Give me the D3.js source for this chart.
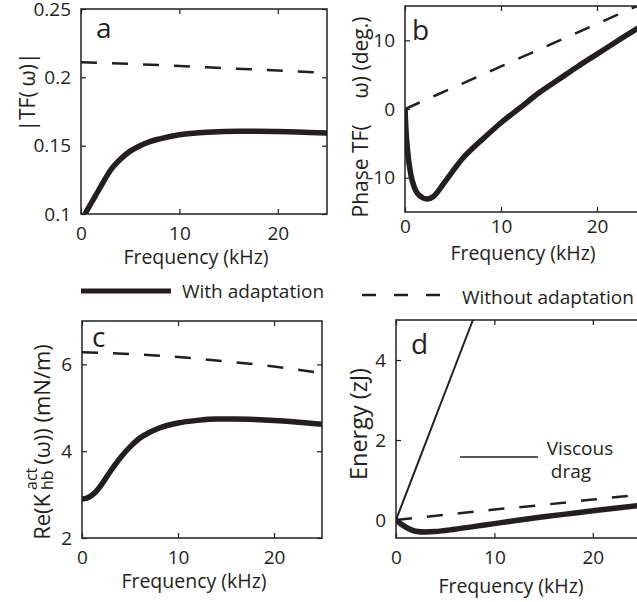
<!DOCTYPE html>
<html>
<head>
<meta charset="utf-8">
<script src="https://cdn.jsdelivr.net/npm/d3@7"></script>
<style>
  body { margin: 0; background: #fff; }
  text { font-family: "Open Sans", sans-serif; fill: #231f20; }
</style>
</head>
<body>
<script>
// ---- data ----
const freqTicks = [0, 10, 20]

// a: |TF(w)|
const tfWithFreq = [0.4, 1, 1.6, 2, 3, 4, 5, 6, 7, 8, 10, 12, 14, 16, 18, 20, 22, 25]
const tfWith = [0.1, 0.1075, 0.115, 0.12, 0.132, 0.14, 0.146, 0.15, 0.153, 0.155, 0.158, 0.1595, 0.1602, 0.1605, 0.1605, 0.1603, 0.16, 0.1592]
const tfWithoutFreq = [0, 5, 10, 15, 20, 25]
const tfWithout = [0.211, 0.2098, 0.2083, 0.2066, 0.205, 0.2032]
const tfTicks = [0.1, 0.15, 0.2, 0.25]

// b: phase TF(w)
const phaseWithFreq = [0, 0.1, 0.3, 0.6, 1, 1.5, 2.3, 3, 4, 5, 6, 7, 8, 10, 12, 14, 16, 18, 20, 22, 25]
const phaseWith = [0, -3, -6.5, -9.5, -11.5, -12.6, -13.1, -12.7, -10.9, -9, -7.2, -5.8, -4.5, -2, 0.2, 2.4, 4.3, 6.2, 8, 9.8, 12.4]
const phaseWithoutFreq = [0, 5, 10, 15, 20, 25]
const phaseWithout = [0, 3.1, 6.2, 9.3, 12.4, 15.5]
const phaseTicks = [-10, 0, 10]

// c: Re(K_hb^act(w))
const kWithFreq = [0, 0.5, 1, 1.5, 2, 3, 4, 5, 6, 7, 8, 10, 12, 14, 16, 18, 20, 22, 25]
const kWith = [2.9, 2.92, 2.98, 3.08, 3.22, 3.55, 3.85, 4.1, 4.3, 4.43, 4.53, 4.65, 4.71, 4.74, 4.74, 4.73, 4.71, 4.68, 4.62]
const kWithoutFreq = [0, 5, 10, 15, 20, 25]
const kWithout = [6.28, 6.24, 6.17, 6.07, 5.95, 5.8]
const kTicks = [2, 4, 6]

// d: energy
const eWithFreq = [0, 0.5, 1, 1.5, 2, 3, 4, 6, 8, 10, 12, 15, 18, 20, 22, 25]
const eWith = [0, -0.1, -0.18, -0.24, -0.28, -0.3, -0.29, -0.23, -0.16, -0.09, -0.02, 0.08, 0.17, 0.23, 0.29, 0.37]
const eWithoutFreq = [0, 5, 10, 15, 20, 25]
const eWithout = [0, 0.13, 0.26, 0.38, 0.51, 0.64]
const viscousFreq = [0, 5, 10]
const viscous = [0, 3.2, 6.4]
const eTicks = [0, 2, 4]

const zip = (xs, ys) => xs.map((x, i) => [x, ys[i]])

const svg = d3.select('body').append('svg').attr('width', 637).attr('height', 602)

const panels = [
  {
    id: 'a', left: 81, right: 327, top: 9, bottom: 214, ydom: [0.1, 0.25], yticks: tfTicks,
    xPad: 13, xlabel: [196, 263], letter: [96, 38],
    series: [
      { data: zip(tfWithoutFreq, tfWithout), dash: true },
      { data: zip(tfWithFreq, tfWith) },
    ],
  },
  {
    id: 'b', left: 405, right: 645, top: 6, bottom: 212, ydom: [-15, 15], yticks: phaseTicks,
    xPad: 7.5, xlabel: [523, 259], letter: [412, 40],
    series: [
      { data: zip(phaseWithoutFreq, phaseWithout), dash: true },
      { data: zip(phaseWithFreq, phaseWith) },
    ],
  },
  {
    id: 'c', left: 82, right: 322, top: 321, bottom: 538, ydom: [2, 7], yticks: kTicks,
    xPad: 13, xlabel: [194, 587], letter: [92, 347],
    series: [
      { data: zip(kWithoutFreq, kWithout), dash: true },
      { data: zip(kWithFreq, kWith) },
    ],
  },
  {
    id: 'd', left: 396, right: 642, top: 320, bottom: 538, ydom: [-0.45, 5], yticks: eTicks,
    xPad: 13, xlabel: [511, 592], letter: [411, 354],
    series: [
      { data: zip(viscousFreq, viscous), thin: true },
      { data: zip(eWithoutFreq, eWithout), dash: true },
      { data: zip(eWithFreq, eWith) },
    ],
  },
]

panels.forEach((p) => {
  const x = d3.scaleLinear().domain([0, 25]).range([p.left, p.right])
  const y = d3.scaleLinear().domain(p.ydom).range([p.bottom, p.top])

  svg.append('clipPath').attr('id', 'clip-' + p.id)
    .append('rect')
    .attr('x', p.left).attr('y', p.top)
    .attr('width', p.right - p.left).attr('height', p.bottom - p.top)

  const line = d3.line().x((d) => x(d[0])).y((d) => y(d[1])).curve(d3.curveMonotoneX)
  const g = svg.append('g').attr('clip-path', `url(#clip-${p.id})`)
  p.series.forEach((s) => {
    g.append('path')
      .datum(s.data)
      .attr('fill', 'none')
      .attr('stroke', '#231f20')
      .attr('stroke-width', s.dash ? 2.5 : s.thin ? 2 : 5.5)
      .attr('stroke-dasharray', s.dash ? '16,15' : null)
      .attr('stroke-linejoin', 'round')
      .attr('d', line)
  })

  // axes, ticks pointing inward
  const fmt = (v) => String(v)
  const bottom = svg.append('g').attr('transform', `translate(0,${p.bottom})`)
    .call(d3.axisBottom(x).tickValues(freqTicks).tickSizeInner(-5).tickSizeOuter(0).tickPadding(p.xPad).tickFormat(fmt))
  const left = svg.append('g').attr('transform', `translate(${p.left},0)`)
    .call(d3.axisLeft(y).tickValues(p.yticks).tickSizeInner(-5).tickSizeOuter(0).tickPadding(10).tickFormat(fmt))
  const top = svg.append('g').attr('transform', `translate(0,${p.top})`)
    .call(d3.axisTop(x).tickValues(freqTicks).tickSizeInner(-5).tickSizeOuter(0).tickFormat(''))
  const right = svg.append('g').attr('transform', `translate(${p.right},0)`)
    .call(d3.axisRight(y).tickValues(p.yticks).tickSizeInner(-5).tickSizeOuter(0).tickFormat(''))
  ;[bottom, left, top, right].forEach((ax) => {
    ax.select('.domain').remove()
    ax.selectAll('line').attr('stroke', '#231f20').attr('stroke-width', 1.2)
    ax.selectAll('text').attr('font-size', 19).attr('font-family', '"Open Sans", sans-serif').attr('fill', '#231f20')
  })

  svg.append('rect')
    .attr('x', p.left).attr('y', p.top)
    .attr('width', p.right - p.left).attr('height', p.bottom - p.top)
    .attr('fill', 'none').attr('stroke', '#231f20').attr('stroke-width', 1.5)

  svg.append('text')
    .attr('x', p.xlabel[0])
    .attr('y', p.xlabel[1] + 1)
    .attr('text-anchor', 'middle')
    .attr('font-size', 19.5)
    .text('Frequency (kHz)')

  svg.append('text')
    .attr('x', p.letter[0]).attr('y', p.letter[1])
    .attr('font-size', 28)
    .text(p.id)
})

// y-axis labels
const yLabel = (cx, cy, size) =>
  svg.append('text')
    .attr('transform', `translate(${cx},${cy}) rotate(-90)`)
    .attr('text-anchor', 'middle')
    .attr('font-size', size)

const la = yLabel(35, 92, 21)
la.append('tspan').text('|TF(')
la.append('tspan').attr('dx', 5).text('ω)|')

const lb = yLabel(368, 117, 21)
lb.append('tspan').text('Phase TF(')
lb.append('tspan').attr('dx', 26).text('ω) (deg.)')

yLabel(367, 424, 23.5).text('Energy (zJ)')

// c label with super/subscript
const lc = svg.append('g').attr('transform', 'translate(50,442) rotate(-90)')
const t1 = lc.append('text').attr('font-size', 22).text('Re(K')
const sup = lc.append('text').attr('font-size', 16).attr('y', -13).text('act')
const sub = lc.append('text').attr('font-size', 16).attr('y', 3).text('hb')
const t2 = lc.append('text').attr('font-size', 22).text('(ω)) (mN/m)')
const w1 = t1.node().getComputedTextLength()
const ws = Math.max(sup.node().getComputedTextLength(), sub.node().getComputedTextLength())
const w2 = t2.node().getComputedTextLength()
const total = w1 + 4 + ws + 3 + w2
let pos = -total / 2
t1.attr('x', pos); pos += w1 + 4
sup.attr('x', pos); sub.attr('x', pos); pos += ws + 3
t2.attr('x', pos)

// viscous drag annotation in d
svg.append('line')
  .attr('x1', 460).attr('x2', 538).attr('y1', 457).attr('y2', 457)
  .attr('stroke', '#231f20').attr('stroke-width', 1.6)
svg.append('text').attr('x', 580).attr('y', 455).attr('text-anchor', 'middle').attr('font-size', 19).text('Viscous')
svg.append('text').attr('x', 571).attr('y', 478).attr('text-anchor', 'middle').attr('font-size', 19).text('drag')

// legend
svg.append('line').attr('x1', 81).attr('x2', 171).attr('y1', 291).attr('y2', 291)
  .attr('stroke', '#231f20').attr('stroke-width', 5)
svg.append('text').attr('x', 182).attr('y', 298).attr('font-size', 19).text('With adaptation')
svg.append('line').attr('x1', 362).attr('x2', 441).attr('y1', 295).attr('y2', 295)
  .attr('stroke', '#231f20').attr('stroke-width', 2.5).attr('stroke-dasharray', '14,18')
svg.append('text').attr('x', 462).attr('y', 304).attr('font-size', 19).text('Without adaptation')
</script>
</body>
</html>
